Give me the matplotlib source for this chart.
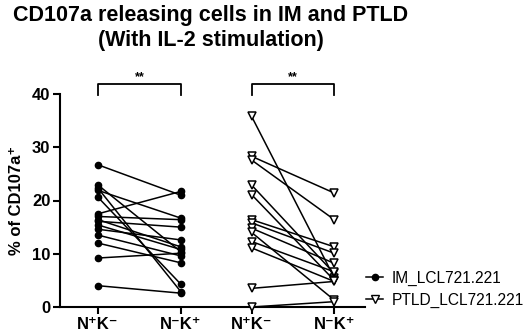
import matplotlib
matplotlib.use("Agg")
import matplotlib.pyplot as plt
from matplotlib.lines import Line2D

plt.rcParams['font.family'] = ['Liberation Sans', 'DejaVu Sans']
plt.rcParams['font.weight'] = 'bold'

categories = ["N⁺K⁻", "N⁻K⁺", "N⁺K⁻", "N⁻K⁺"]
im_before = [26.7, 22.9, 22.3, 21.9, 20.6, 17.5, 17.0, 16.4, 16.1, 15.4, 14.6, 13.5, 12.0, 9.2, 4.0]
im_after = [21.0, 10.4, 2.9, 16.7, 4.3, 21.7, 16.4, 11.3, 15.0, 10.8, 12.6, 9.6, 8.3, 10.1, 2.6]
ptld_before = [35.8, 28.3, 27.6, 22.9, 21.1, 16.4, 15.8, 14.8, 14.0, 12.3, 11.1, 3.5, 0.0]
ptld_after = [5.5, 21.4, 16.4, 6.3, 5.0, 11.3, 10.1, 8.2, 1.3, 6.6, 4.8, 4.8, 1.0]
series_labels = ["IM_LCL721.221", "PTLD_LCL721.221"]
sig_labels = ["**", "**"]

xpos = [1, 2.05, 2.95, 4]

fig = plt.figure(figsize=(5.32, 3.35), dpi=100)
ax = fig.add_axes([60/532, 28/335, 305/532, 213/335])

for b, a in zip(im_before, im_after):
    ax.plot([xpos[0], xpos[1]], [b, a], color='black', lw=1.1, marker='o',
            markersize=4.5, markerfacecolor='black', markeredgecolor='black', clip_on=False, zorder=3)
for b, a in zip(ptld_before, ptld_after):
    ax.plot([xpos[2], xpos[3]], [b, a], color='black', lw=1.1, marker='v',
            markersize=6, markerfacecolor='white', markeredgecolor='black', markeredgewidth=1.1,
            clip_on=False, zorder=3)

ax.set_xlim(0.517, 4.39)
ax.set_ylim(0, 40)
ax.set_yticks([0, 10, 20, 30, 40])
ax.set_xticks(xpos)
ax.set_xticklabels(categories, fontsize=12, fontweight='bold')
for lab in ax.get_yticklabels():
    lab.set_fontsize(12)
    lab.set_fontweight('bold')
ax.tick_params(axis='both', direction='out', length=5, width=1.5, pad=2)
for s in ['top', 'right']:
    ax.spines[s].set_visible(False)
for s in ['left', 'bottom']:
    ax.spines[s].set_linewidth(1.5)
ax.set_ylabel("% of CD107a⁺", fontsize=12, fontweight='bold', labelpad=6)

# significance brackets
for (x0, x1), lab in zip([(xpos[0], xpos[1]), (xpos[2], xpos[3])], sig_labels):
    ax.plot([x0, x0, x1, x1], [39.9, 41.8, 41.8, 39.9], color='black', lw=1.3, clip_on=False)
    ax.text((x0 + x1) / 2, 42.0, lab, ha='center', va='bottom', fontsize=9, fontweight='bold')

fig.text(211/532, 1 - 5/335, "CD107a releasing cells in IM and PTLD\n(With IL-2 stimulation)",
         ha='center', va='top', fontsize=15.5, fontweight='bold', linespacing=1.25)

handles = [Line2D([0], [0], color='black', lw=1.1, marker='o', markersize=4.5,
                  markerfacecolor='black'),
           Line2D([0], [0], color='black', lw=1.1, marker='v', markersize=6,
                  markerfacecolor='white', markeredgecolor='black')]
leg = fig.legend(handles, series_labels, loc='center left', bbox_to_anchor=(352/532, 1 - 289/335),
                 frameon=False, handlelength=1.1, handletextpad=0.55, labelspacing=0.45,
                 prop={'size': 11.2, 'weight': 'normal'})

fig.savefig("out.png", dpi=100)
